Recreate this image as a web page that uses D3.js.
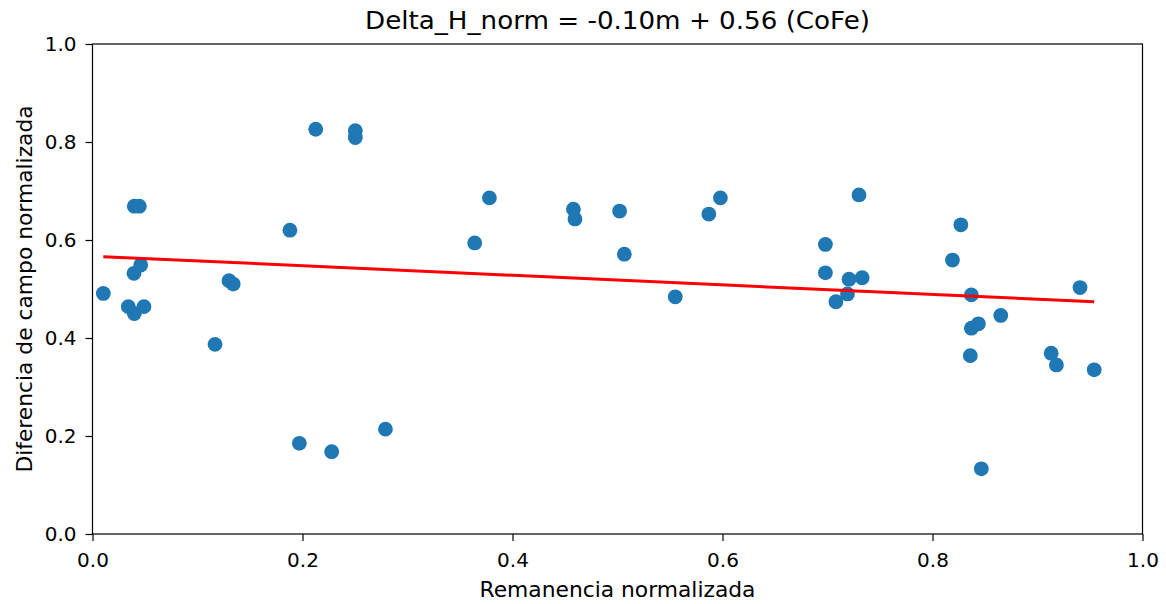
<!DOCTYPE html>
<html><head><meta charset="utf-8">
<script src="https://cdn.jsdelivr.net/npm/d3@7"></script>
<style>body{margin:0;background:#fff}svg{display:block}text{font-family:"DejaVu Sans",sans-serif;fill:#000}</style>
</head><body>
<script>
const remanencia = [0.0103,0.0341,0.0398,0.049,0.0395,0.0459,0.0398,0.0446,0.1167,0.130,0.134,0.188,0.2126,0.2503,0.2503,0.197,0.2278,
 0.279,0.364,0.378,0.458,0.4595,0.502,0.5065,0.555,0.587,0.598,
 0.698,0.698,0.708,0.719,0.7205,0.733,0.730,0.819,0.827,0.837,0.837,0.8437,0.836,0.865,0.8465,0.913,0.918,0.9405,0.954];
const deltaH = [0.491,0.464,0.450,0.464,0.532,0.549,0.669,0.669,0.387,0.517,0.510,0.620,0.826,0.823,0.809,0.185,0.168,
 0.214,0.594,0.686,0.663,0.643,0.659,0.571,0.484,0.653,0.686,
 0.591,0.533,0.474,0.490,0.520,0.523,0.692,0.559,0.631,0.488,0.420,0.429,0.364,0.446,0.133,0.369,0.345,0.503,0.335];
const fitSlope = -0.0975, fitIntercept = 0.567;
const xTicks = [0,0.2,0.4,0.6,0.8,1.0];
const yTicks = [0,0.2,0.4,0.6,0.8,1.0];
const titleText = "Delta_H_norm = -0.10m + 0.56 (CoFe)";
const xLabel = "Remanencia normalizada";
const yLabel = "Diferencia de campo normalizada";

const W=1166,H=604, L=92.5, R=1142.5, T=44, B=534;
const svg=d3.select("body").append("svg").attr("width",W).attr("height",H);
const x=d3.scaleLinear().domain([0,1]).range([L,R]);
const y=d3.scaleLinear().domain([0,1]).range([B,T]);

const pts = remanencia.map((v,i)=>[v,deltaH[i]]);
svg.append("g").selectAll("circle").data(pts).join("circle")
  .attr("cx",d=>x(d[0])).attr("cy",d=>y(d[1])).attr("r",7.4).attr("fill","#1f77b4");

const xs=d3.extent(remanencia);
svg.append("line").attr("x1",x(xs[0])).attr("y1",y(fitSlope*xs[0]+fitIntercept))
  .attr("x2",x(xs[1])).attr("y2",y(fitSlope*xs[1]+fitIntercept))
  .attr("stroke","#ff0000").attr("stroke-width",3);

const fmt=d3.format(".1f");
const gx=svg.append("g").attr("transform",`translate(0,${B})`)
  .call(d3.axisBottom(x).tickValues(xTicks).tickFormat(fmt).tickSize(7).tickPadding(11.5));
const gy=svg.append("g").attr("transform",`translate(${L},0)`)
  .call(d3.axisLeft(y).tickValues(yTicks).tickFormat(fmt).tickSize(7).tickPadding(9));
[gx,gy].forEach(g=>{g.select(".domain").remove();g.selectAll("line").attr("stroke","#000").attr("stroke-width",1.2);
  g.selectAll("text").style("font-size","20px").attr("fill","#000").style("font-family","DejaVu Sans");});
svg.append("rect").attr("x",L).attr("y",T).attr("width",R-L).attr("height",B-T)
  .attr("fill","none").attr("stroke","#000").attr("stroke-width",1.2);

svg.append("text").attr("x",(L+R)/2).attr("y",28.5).attr("text-anchor","middle").style("font-size","25px")
  .attr("textLength",505).attr("lengthAdjust","spacingAndGlyphs").text(titleText);
svg.append("text").attr("x",(L+R)/2).attr("y",597).attr("text-anchor","middle").style("font-size","21.8px").text(xLabel);
svg.append("text").attr("transform",`translate(32,${(T+B)/2}) rotate(-90)`).attr("text-anchor","middle").style("font-size","21.8px").text(yLabel);
</script>
</body></html>
